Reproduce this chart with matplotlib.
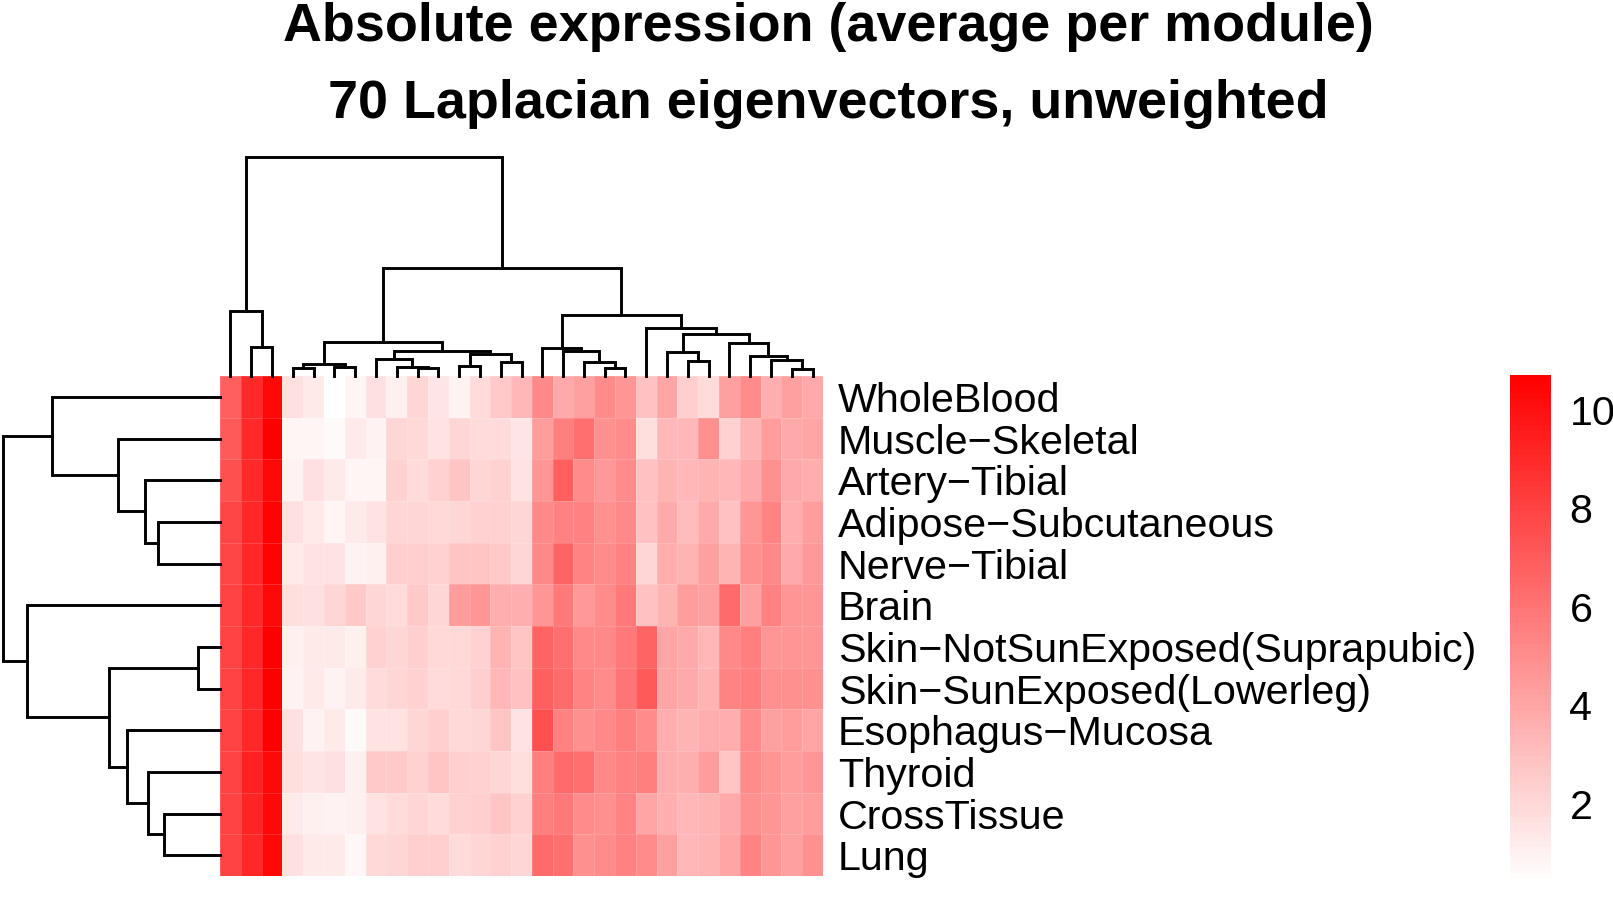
import numpy as np
import matplotlib
matplotlib.use("Agg")
import matplotlib.pyplot as plt
from matplotlib.colors import LinearSegmentedColormap

plt.rcParams['font.family'] = ['Liberation Sans', 'DejaVu Sans']

tissues = ["WholeBlood", "Muscle\u2212Skeletal", "Artery\u2212Tibial",
           "Adipose\u2212Subcutaneous", "Nerve\u2212Tibial", "Brain",
           "Skin\u2212NotSunExposed(Suprapubic)", "Skin\u2212SunExposed(Lowerleg)",
           "Esophagus\u2212Mucosa", "Thyroid", "CrossTissue", "Lung"]

# average expression per module, rows in display order, 29 modules (columns) in display order
expr = np.array([
    [6.8, 9.0, 10.3, 1.7, 1.25, 0.4, 0.9, 1.65, 1.1, 2.05, 1.45, 1.0, 1.9, 2.6, 3.3, 5.2, 3.9, 4.25, 5.05, 4.7, 2.95, 4.1, 2.4, 1.9, 4.25, 5.1, 3.6, 4.25, 3.9],
    [7.05, 9.0, 10.7, 0.9, 0.9, 0.7, 1.25, 1.0, 2.05, 2.0, 1.6, 2.1, 1.9, 1.9, 1.5, 4.4, 5.6, 6.2, 4.9, 5.05, 1.8, 3.3, 3.3, 4.9, 2.3, 3.4, 4.4, 3.9, 4.1],
    [7.5, 9.0, 10.3, 1.0, 1.7, 1.3, 0.9, 0.9, 2.3, 1.9, 2.3, 2.8, 2.05, 2.3, 1.6, 4.7, 6.8, 5.05, 4.55, 5.05, 2.95, 3.4, 3.3, 3.4, 3.3, 3.9, 4.9, 3.9, 3.75],
    [7.9, 9.1, 10.5, 1.65, 1.3, 0.9, 1.3, 1.6, 2.05, 2.05, 2.0, 2.1, 2.3, 2.3, 2.05, 5.2, 5.5, 5.5, 4.9, 5.2, 2.95, 3.9, 3.1, 3.9, 2.95, 4.7, 5.4, 3.75, 4.4],
    [7.9, 9.1, 10.5, 1.25, 1.6, 1.6, 1.0, 1.1, 2.4, 2.4, 2.3, 2.8, 2.8, 2.6, 2.05, 5.2, 6.6, 5.4, 5.05, 5.5, 2.1, 3.75, 3.4, 4.25, 3.4, 4.9, 5.2, 3.9, 4.55],
    [8.0, 9.1, 10.3, 1.8, 1.65, 2.1, 2.6, 2.05, 1.9, 2.6, 2.05, 4.4, 4.7, 3.75, 3.6, 4.7, 5.85, 4.55, 5.05, 5.85, 2.95, 3.4, 4.4, 4.25, 6.4, 4.25, 5.5, 4.7, 4.7],
    [8.0, 9.1, 10.7, 1.1, 1.3, 1.3, 1.1, 2.3, 2.05, 2.4, 2.0, 2.0, 2.3, 3.4, 2.8, 6.65, 6.2, 5.2, 5.2, 5.85, 6.65, 4.1, 3.9, 3.3, 5.2, 5.65, 4.7, 4.7, 4.7],
    [8.0, 9.1, 10.7, 1.0, 1.25, 1.0, 1.25, 1.9, 2.1, 2.3, 1.9, 2.0, 2.4, 3.3, 2.95, 6.8, 6.4, 5.4, 5.05, 6.0, 7.0, 4.1, 3.9, 3.4, 5.4, 5.65, 4.9, 4.9, 4.9],
    [8.0, 9.1, 10.7, 1.7, 1.0, 1.25, 0.7, 1.6, 1.6, 2.1, 2.4, 2.0, 2.05, 2.8, 1.6, 7.5, 5.5, 4.9, 5.2, 5.65, 5.05, 3.75, 3.4, 3.75, 3.75, 5.05, 4.25, 4.4, 4.1],
    [8.0, 9.3, 10.3, 1.8, 1.5, 1.7, 1.1, 2.6, 2.6, 2.3, 2.8, 2.4, 2.3, 2.1, 1.8, 5.65, 6.4, 6.2, 5.2, 5.5, 5.65, 3.75, 3.6, 4.4, 2.8, 5.05, 4.7, 4.4, 4.7],
    [8.0, 9.2, 10.3, 1.25, 1.1, 1.0, 1.1, 1.6, 1.9, 2.05, 1.9, 2.3, 2.4, 2.8, 2.3, 5.65, 5.85, 5.05, 4.9, 5.4, 4.1, 3.6, 3.3, 3.4, 3.9, 4.9, 4.7, 4.25, 4.4],
    [8.0, 9.1, 10.3, 1.7, 1.3, 1.25, 0.8, 2.0, 2.1, 2.4, 2.4, 1.9, 2.05, 2.3, 2.1, 6.4, 6.2, 4.9, 5.05, 5.5, 5.05, 4.25, 3.3, 3.4, 4.1, 5.4, 4.7, 4.25, 4.9],
])

# hierarchical clustering merges: (child a, child b, height); ids >= n are earlier merges
col_merges = [
    (1, 2, 29.4), (0, 29, 65.4), (3, 4, 7.7), (5, 6, 9.3), (31, 32, 12.0),
    (9, 10, 8.3), (8, 34, 9.3), (7, 35, 17.0), (11, 12, 10.3), (13, 14, 13.7),
    (37, 38, 21.7), (36, 39, 25.3), (33, 40, 34.3), (18, 19, 8.0), (17, 42, 14.0),
    (16, 43, 25.3), (15, 44, 27.7), (22, 23, 15.0), (21, 46, 23.7), (27, 28, 7.3),
    (26, 48, 16.0), (25, 49, 20.3), (24, 50, 33.3), (47, 51, 41.7), (20, 52, 48.3),
    (45, 53, 61.0), (41, 54, 107.5), (30, 55, 219.0),
]
row_merges = [
    (3, 4, 62.3), (2, 12, 75.0), (1, 13, 102.3), (0, 14, 168.3),
    (6, 7, 21.7), (10, 11, 56.0), (9, 17, 71.7), (8, 18, 93.3),
    (16, 19, 111.0), (5, 20, 193.3), (15, 21, 217.3),
]
legend_ticks = [2, 4, 6, 8, 10]


def dendro_segments(merges, n):
    pos = {i: i + 0.5 for i in range(n)}
    hgt = {i: 0.0 for i in range(n)}
    segs = []
    for k, (a, b, h) in enumerate(merges):
        segs.append(([pos[a], pos[a], pos[b], pos[b]], [hgt[a], h, h, hgt[b]]))
        pos[n + k] = (pos[a] + pos[b]) / 2
        hgt[n + k] = h
    return segs


W, H = 1613, 897
fig = plt.figure(figsize=(W / 100, H / 100), dpi=100)


def px_axes(x0, y0, x1, y1):
    return fig.add_axes([x0 / W, 1 - y1 / H, (x1 - x0) / W, (y1 - y0) / H])


nrow, ncol = expr.shape
vmin, vmax = expr.min(), expr.max()
cmap = LinearSegmentedColormap.from_list("wr", ["white", "red"], N=100)

# heatmap
ax = px_axes(220, 376, 823, 876)
ax.pcolormesh(np.arange(ncol + 1), np.arange(nrow + 1), expr, cmap=cmap,
              vmin=vmin, vmax=vmax, edgecolors=(1, 1, 1, 0.15), linewidth=0.6)
ax.set_xlim(0, ncol)
ax.set_ylim(nrow, 0)
ax.axis("off")
for i, name in enumerate(tissues):
    ax.text(ncol + 0.72, i + 0.5, name, ha="left", va="center_baseline", fontsize=29.7)

# column dendrogram
axc = px_axes(220, 157, 823, 376)
for xs, ys in dendro_segments(col_merges, ncol):
    axc.plot(xs, ys, color="black", lw=2.1, clip_on=False, solid_joinstyle="miter")
axc.set_xlim(0, ncol)
axc.set_ylim(0, 219)
axc.axis("off")

# row dendrogram
axr = px_axes(0, 376, 220, 876)
for ys, xs in dendro_segments(row_merges, nrow):
    axr.plot(xs, ys, color="black", lw=2.1, clip_on=False, solid_joinstyle="miter")
axr.set_xlim(220, 0)
axr.set_ylim(nrow, 0)
axr.axis("off")

# legend
axl = px_axes(1510, 375, 1551, 883)
grad = np.linspace(vmin, vmax, 100).reshape(-1, 1)
axl.imshow(grad, cmap=cmap, vmin=vmin, vmax=vmax, aspect="auto", origin="lower",
           extent=[0, 1, vmin, vmax])
axl.set_xlim(0, 1)
axl.set_ylim(vmin, vmax)
axl.axis("off")
for t in legend_ticks:
    axl.text(1.45, t, str(t), ha="left", va="center_baseline", fontsize=29.7, clip_on=False)

fig.text(828 / W, 1 - 41 / H, "Absolute expression (average per module)",
         ha="center", va="baseline", fontsize=38.8, fontweight="bold")
fig.text(828 / W, 1 - 118 / H, "70 Laplacian eigenvectors, unweighted",
         ha="center", va="baseline", fontsize=38.8, fontweight="bold")

fig.savefig("out.png", dpi=100)
